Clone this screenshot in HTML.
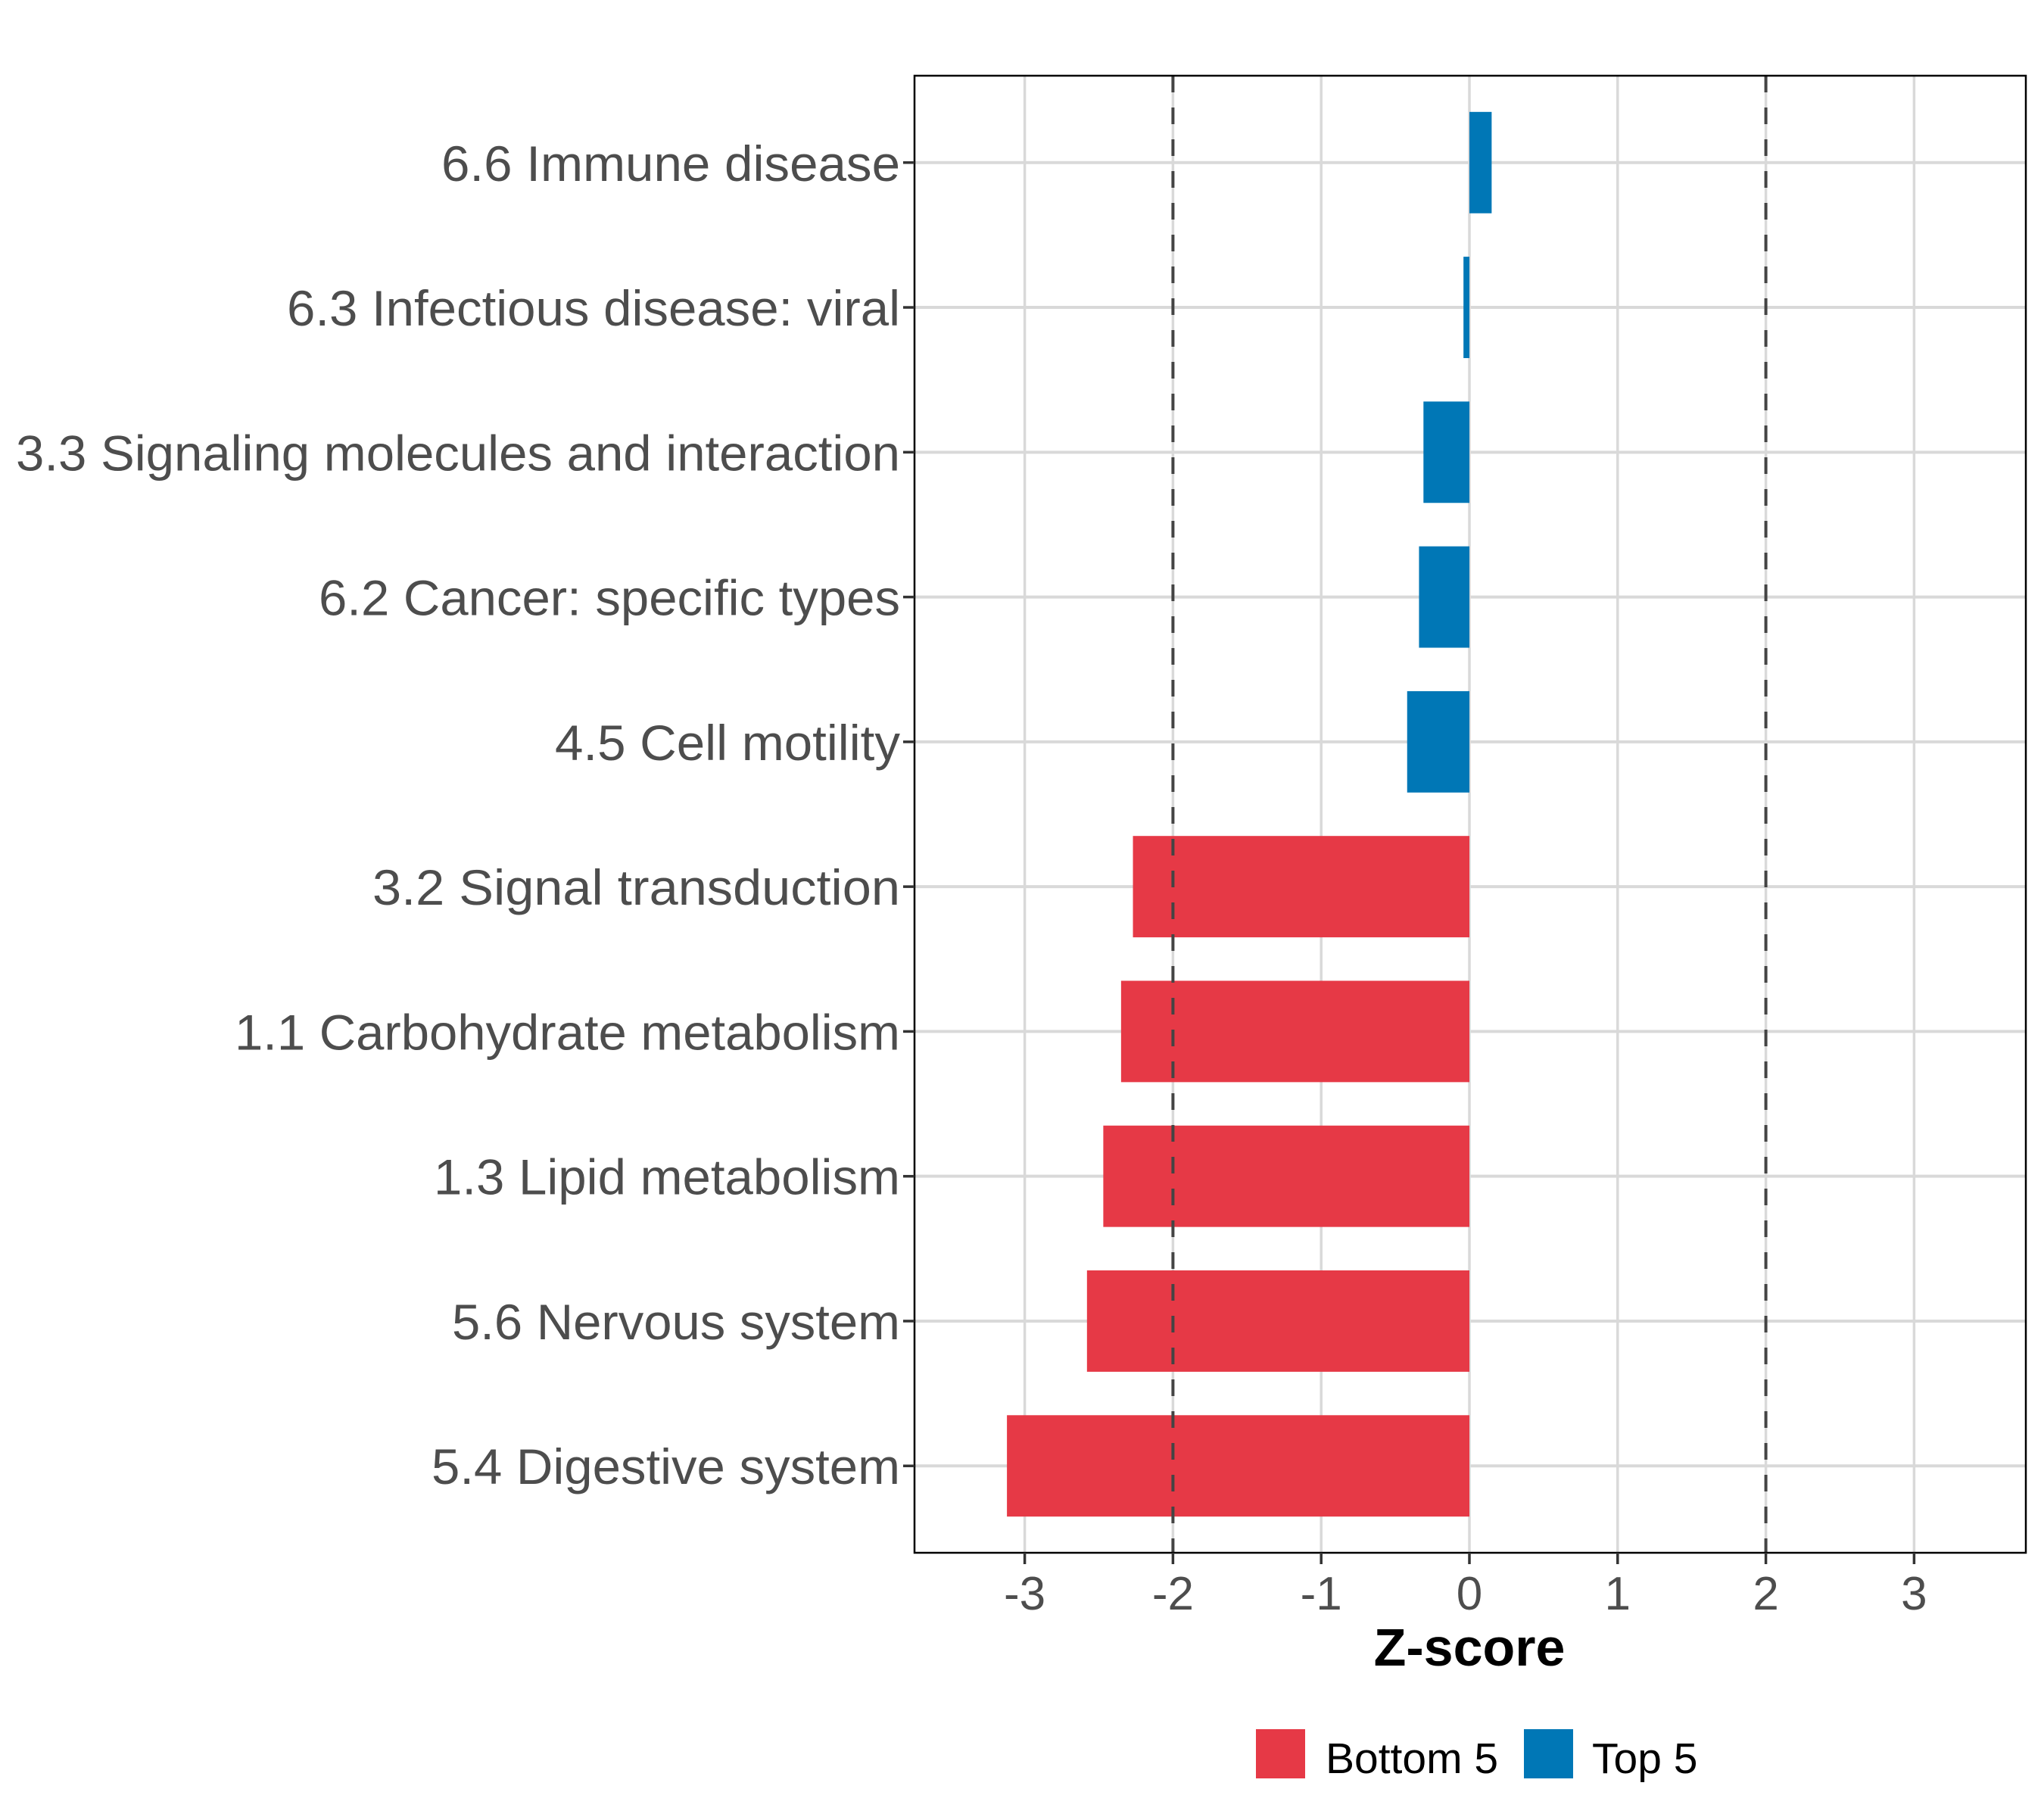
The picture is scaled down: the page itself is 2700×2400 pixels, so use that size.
<!DOCTYPE html>
<html><head><meta charset="utf-8"><style>
html,body{margin:0;padding:0;background:#fff;}
svg{display:block;font-family:"Liberation Sans",Arial,sans-serif;}
</style></head><body>
<svg id="chart" xmlns="http://www.w3.org/2000/svg" width="2700" height="2400" viewBox="0 0 2700 2400">
<rect x="0" y="0" width="2700" height="2400" fill="#fff"/>
<g id="grid"></g>
<g id="bars"></g>
<g id="refs"></g>
<rect x="1208" y="100" width="1468" height="1951" fill="none" stroke="#000" stroke-width="2.5"/>
<g id="yaxis"></g>
<g id="xaxis"></g>
<text x="1941" y="2200" text-anchor="middle" font-size="70" font-weight="bold" fill="#000">Z-score</text>
<g>
<rect x="1668" y="2297" width="65" height="65" fill="#E63946" transform="translate(-9,-13)"/>
<text x="1751" y="2342" font-size="57" fill="#000">Bottom 5</text>
<rect x="2013" y="2284" width="65" height="65" fill="#0077B6"/>
<text x="2103" y="2342" font-size="57" fill="#000">Top 5</text>
</g>
</svg>
<script>
const categories = ["6.6 Immune disease","6.3 Infectious disease: viral","3.3 Signaling molecules and interaction","6.2 Cancer: specific types","4.5 Cell motility","3.2 Signal transduction","1.1 Carbohydrate metabolism","1.3 Lipid metabolism","5.6 Nervous system","5.4 Digestive system"];
const zscores = [0.15,-0.04,-0.31,-0.34,-0.42,-2.27,-2.35,-2.47,-2.58,-3.12];
const groups = ["Top 5","Top 5","Top 5","Top 5","Top 5","Bottom 5","Bottom 5","Bottom 5","Bottom 5","Bottom 5"];
const xTicks = [-3,-2,-1,0,1,2,3];
const xTickLabels = ["-3","-2","-1","0","1","2","3"];
const refValues = [-2,2];

const NS="http://www.w3.org/2000/svg";
const L=1208,R=2676,T=100,B=2051;
const x0=1941, unit=195.8;
function xs(v){return x0+v*unit;}
const step=(B-T)/(categories.length-1+1.2);
function ys(i){return T+step*(0.6+i);}
function mk(tag,attrs,parent){const e=document.createElementNS(NS,tag);for(const k in attrs)e.setAttribute(k,attrs[k]);parent.appendChild(e);return e;}
const grid=document.getElementById('grid'),bars=document.getElementById('bars'),refs=document.getElementById('refs'),yax=document.getElementById('yaxis'),xax=document.getElementById('xaxis');
const labelWidths=[606,810,1168,768,456,697,879,616,592,619];
xTicks.forEach((t,i)=>{
  const g=mk('line',{x1:xs(t),x2:xs(t),y1:T,y2:B,stroke:'#d9d9d9','stroke-width':3.5},grid);
  
  
  const tk=mk('line',{x1:xs(t),x2:xs(t),y1:B,y2:B+15,stroke:'#333','stroke-width':3.5},xax);
  
  
  const tl=mk('text',{x:xs(t),y:2126,'text-anchor':'middle','font-size':62,fill:'#4d4d4d'},xax);
  tl.textContent=xTickLabels[i];
  
  
});
categories.forEach((c,i)=>{
  const y=ys(i);
  const g=mk('line',{x1:L,x2:R,y1:y,y2:y,stroke:'#d9d9d9','stroke-width':4},grid);
  
  
  const v=zscores[i];
  const h=step*0.7;
  const b=mk('rect',{x:Math.min(xs(0),xs(v)),y:y-h/2,width:Math.abs(xs(v)-xs(0)),height:h,fill:groups[i]==='Top 5'?'#0077B6':'#E63946'},bars);
  
  
  const tk=mk('line',{x1:L-15,x2:L,y1:y,y2:y,stroke:'#333','stroke-width':3.5},yax);
  
  
  const tl=mk('text',{x:1189,y:y+24,'text-anchor':'end','font-size':66,fill:'#4d4d4d',textLength:labelWidths[i],lengthAdjust:'spacingAndGlyphs'},yax);
  tl.textContent=c;
  
  
});
refValues.forEach(v=>{
  const l=mk('line',{x1:xs(v),x2:xs(v),y1:T,y2:B,stroke:'#444','stroke-width':4,'stroke-dasharray':'22,20'},refs);
  
  
});
</script>
</body></html>
